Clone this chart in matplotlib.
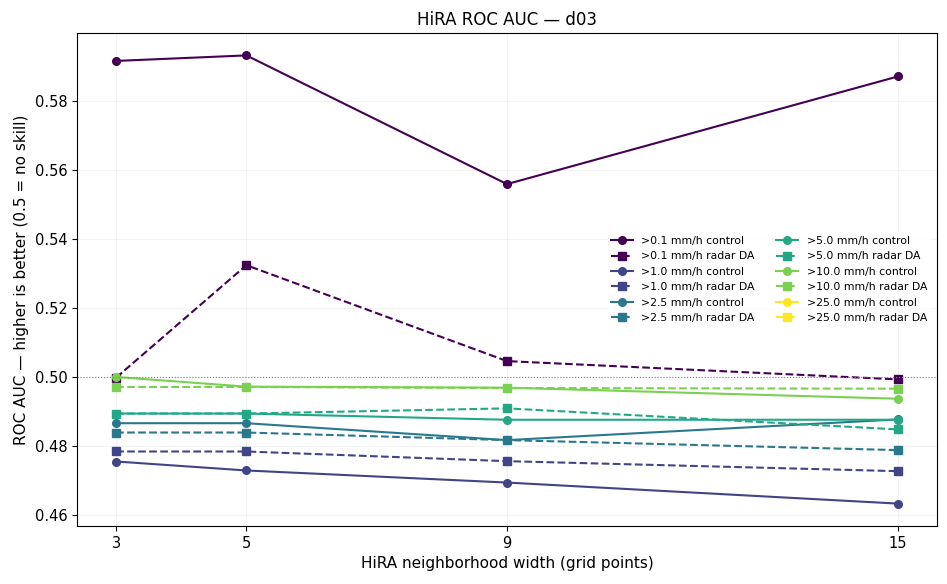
import numpy as np
import matplotlib
matplotlib.use("Agg")
import matplotlib.pyplot as plt

widths = [3, 5, 9, 15]
thresholds = [">0.1 mm/h", ">1.0 mm/h", ">2.5 mm/h", ">5.0 mm/h", ">10.0 mm/h", ">25.0 mm/h"]

control_01 = [0.5917, 0.5933, 0.5560, 0.5872]
radar_01 = [0.4999, 0.5325, 0.5047, 0.4994]
control_10 = [0.4756, 0.4730, 0.4695, 0.4634]
radar_10 = [0.4785, 0.4785, 0.4757, 0.4728]
control_25 = [0.4867, 0.4867, 0.4818, 0.4878]
radar_25 = [0.4840, 0.4840, 0.4818, 0.4789]
control_50 = [0.4895, 0.4895, 0.4877, 0.4877]
radar_50 = [0.4895, 0.4895, 0.4910, 0.4849]
control_100 = [0.5001, 0.4973, 0.4970, 0.4938]
radar_100 = [0.4972, 0.4972, 0.4969, 0.4967]
control_250 = [np.nan, np.nan, np.nan, np.nan]
radar_250 = [np.nan, np.nan, np.nan, np.nan]

controls = [control_01, control_10, control_25, control_50, control_100, control_250]
radars = [radar_01, radar_10, radar_25, radar_50, radar_100, radar_250]

colors = plt.cm.viridis(np.linspace(0, 1, len(thresholds)))

fig, ax = plt.subplots(figsize=(9.47, 5.84), dpi=100)
fig.subplots_adjust(left=0.0813, right=0.9894, top=0.9435, bottom=0.0993)
for thr, c, r, col in zip(thresholds, controls, radars, colors):
    ax.plot(widths, c, marker="o", linestyle="-", color=col, lw=1.5, ms=5.5,
            label=f"{thr} control")
    ax.plot(widths, r, marker="s", linestyle="--", color=col, lw=1.5, ms=5.5,
            label=f"{thr} radar DA")

ax.axhline(0.5, color="gray", linestyle=":", linewidth=0.8)
ax.set_xticks(widths)
ax.set_xlabel("HiRA neighborhood width (grid points)", fontsize=11)
ax.set_ylabel("ROC AUC — higher is better (0.5 = no skill)", fontsize=11)
ax.set_title("HiRA ROC AUC — d03", fontsize=12)
ax.tick_params(labelsize=10.5)
ax.grid(True, alpha=0.15)
leg = ax.legend(loc="center right", ncol=2, fontsize=7.8)
leg.get_frame().set_edgecolor("none")
fig.savefig("out.png", dpi=100)
